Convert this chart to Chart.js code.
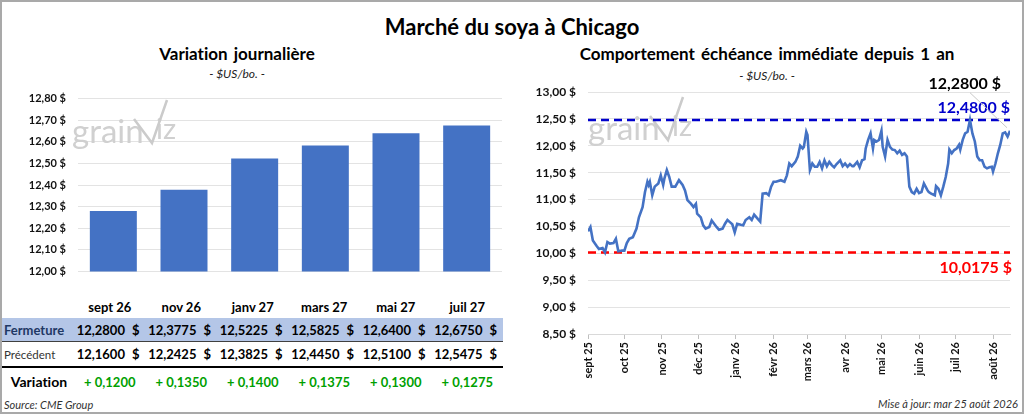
<!DOCTYPE html>
<html lang="fr">
<head>
<meta charset="utf-8">
<title>Marché du soya à Chicago</title>
<script src="https://cdn.jsdelivr.net/npm/chart.js@4.4.1/dist/chart.umd.min.js"></script>
<style>
    html, body { margin: 0; padding: 0; background: #fff; }
    body { width: 1024px; height: 414px; position: relative; overflow: hidden; font-family: Lato, 'Liberation Sans', sans-serif; color: #000; font-variant-ligatures: none; }
    #frame { position: absolute; left: 0; top: 0; width: 1024px; height: 414px; box-sizing: border-box; border: 2px solid #a9a9a9; }
    .abs { position: absolute; white-space: nowrap; }
    #mainTitle { left: 0; width: 1024px; top: 13px; line-height: 28px; text-align: center; font-size: 22px; font-weight: 700; }
    .panelTitle { line-height: 20px; text-align: center; font-size: 17px; font-weight: 700; word-spacing: 2px; }
    .panelSub { line-height: 16px; text-align: center; font-size: 12px; font-style: italic; color: #222; }
    #source { left: 4px; top: 398px; line-height: 14px; font-size: 11px; font-style: italic; color: #333; }
    #updated { right: 6px; top: 397px; line-height: 14px; font-size: 11px; font-style: italic; color: #333; }

    #quoteTable { left: 2px; top: 296px; width: 501px; border-collapse: collapse; table-layout: fixed; font-size: 13px; }
    #quoteTable th, #quoteTable td { padding: 0; white-space: nowrap; }
    #quoteTable thead th { height: 22px; font-weight: 700; text-align: center; }
    #quoteTable tr.close td { height: 23px; background: #b4c6e7; border-bottom: 1px solid #404040; font-weight: 700; }
    #quoteTable tr.close td.label { color: #1f3864; }
    #quoteTable tr.prev td { height: 24px; border-bottom: 2px solid #000; font-weight: 700; }
    #quoteTable tr.prev td.label { font-weight: 400; font-size: 11.5px; color: #333; }
    #quoteTable tr.change td { height: 27px; font-weight: 700; text-align: center; color: #00a000; }
    #quoteTable tr.change td.label { color: #000; font-size: 14px; }
    #quoteTable td.label { text-align: left; padding-left: 2px; }
    #quoteTable td.num { text-align: right; padding-right: 6px; }
    #quoteTable td.num span { margin-left: 7px; }
</style>
</head>
<body>
<div id="frame"></div>
<div id="mainTitle" class="abs">Marché du soya à Chicago</div>
<div class="abs panelTitle" style="left:0;width:474px;top:44px">Variation journalière</div>
<div class="abs panelSub" style="left:0;width:474px;top:66px">- $US/bo. -</div>
<div class="abs panelTitle" style="left:512px;width:510px;top:44px">Comportement échéance immédiate depuis 1 an</div>
<div class="abs panelSub" style="left:512px;width:510px;top:68px">- $US/bo. -</div>

<canvas id="barChart" class="abs" style="left:0;top:80px" width="512" height="210"></canvas>
<canvas id="lineChart" class="abs" style="left:512px;top:70px" width="512" height="320"></canvas>

<table id="quoteTable" class="abs">
    <colgroup><col style="width:72px"><col span="6" style="width:71.5px"></colgroup>
    <thead><tr id="contractRow"><th></th></tr></thead>
    <tbody>
        <tr class="close" id="closeRow"><td class="label">Fermeture</td></tr>
        <tr class="prev" id="prevRow"><td class="label">Précédent</td></tr>
        <tr class="change" id="changeRow"><td class="label">Variation</td></tr>
    </tbody>
</table>

<div id="source" class="abs">Source: CME Group</div>
<div id="updated" class="abs">Mise à jour: mar 25 août 2026</div>

<script>
// Left panel: futures contracts, closing and previous settle
const contracts = ['sept 26', 'nov 26', 'janv 27', 'mars 27', 'mai 27', 'juil 27']
const closingPrices = [12.28, 12.3775, 12.5225, 12.5825, 12.64, 12.675]
const previousPrices = [12.16, 12.2425, 12.3825, 12.445, 12.51, 12.5475]
const dailyChanges = [0.12, 0.135, 0.14, 0.1375, 0.13, 0.1275]

// Right panel: front month over one year
const monthStarts = ['2025-09-01', '2025-10-01', '2025-11-01', '2025-12-01', '2026-01-01', '2026-02-01',
    '2026-03-01', '2026-04-01', '2026-05-01', '2026-06-01', '2026-07-01', '2026-08-01']
const monthLabels = ['sept 25', 'oct 25', 'nov 25', 'déc 25', 'janv 26', 'févr 26',
    'mars 26', 'avr 26', 'mai 26', 'juin 26', 'juil 26', 'août 26']

const priceDates = [
    '2025-09-01', '2025-09-03', '2025-09-05', '2025-09-08', '2025-09-10', '2025-09-13', '2025-09-15', '2025-09-17',
    '2025-09-19', '2025-09-22', '2025-09-24', '2025-09-26', '2025-09-29',
    '2025-10-01', '2025-10-03', '2025-10-05', '2025-10-08', '2025-10-11', '2025-10-13', '2025-10-16', '2025-10-18',
    '2025-10-20', '2025-10-21', '2025-10-22', '2025-10-24', '2025-10-26', '2025-10-29', '2025-10-31',
    '2025-11-02', '2025-11-03', '2025-11-05', '2025-11-07', '2025-11-09', '2025-11-12', '2025-11-15', '2025-11-18',
    '2025-11-20', '2025-11-22', '2025-11-25', '2025-11-27', '2025-11-29', '2025-11-30',
    '2025-12-03', '2025-12-05', '2025-12-07', '2025-12-10', '2025-12-12', '2025-12-14', '2025-12-16', '2025-12-18',
    '2025-12-21', '2025-12-23', '2025-12-25', '2025-12-27', '2025-12-29', '2025-12-31',
    '2026-01-02', '2026-01-05', '2026-01-07', '2026-01-09', '2026-01-12', '2026-01-14', '2026-01-16', '2026-01-19',
    '2026-01-21', '2026-01-23', '2026-01-26', '2026-01-28', '2026-01-30',
    '2026-02-01', '2026-02-03', '2026-02-07', '2026-02-10', '2026-02-12', '2026-02-14', '2026-02-16', '2026-02-19',
    '2026-02-21', '2026-02-23', '2026-02-25', '2026-02-26', '2026-02-28',
    '2026-03-01', '2026-03-03', '2026-03-05', '2026-03-07', '2026-03-09', '2026-03-11', '2026-03-13', '2026-03-15',
    '2026-03-17', '2026-03-19', '2026-03-21', '2026-03-23', '2026-03-25', '2026-03-28', '2026-03-30',
    '2026-04-01', '2026-04-03', '2026-04-05', '2026-04-07', '2026-04-08', '2026-04-11', '2026-04-13', '2026-04-15',
    '2026-04-17', '2026-04-18', '2026-04-20', '2026-04-22', '2026-04-24', '2026-04-25', '2026-04-27', '2026-04-29',
    '2026-05-01', '2026-05-02', '2026-05-04', '2026-05-06', '2026-05-08', '2026-05-10', '2026-05-12', '2026-05-14',
    '2026-05-16', '2026-05-18', '2026-05-20', '2026-05-22', '2026-05-24', '2026-05-26', '2026-05-28', '2026-05-30',
    '2026-06-01', '2026-06-03', '2026-06-05', '2026-06-08', '2026-06-09', '2026-06-11', '2026-06-14', '2026-06-15',
    '2026-06-17', '2026-06-19', '2026-06-21', '2026-06-23', '2026-06-25', '2026-06-26', '2026-06-28', '2026-06-30',
    '2026-07-02', '2026-07-04', '2026-07-05', '2026-07-07', '2026-07-09', '2026-07-11', '2026-07-13', '2026-07-15',
    '2026-07-17', '2026-07-19', '2026-07-21', '2026-07-23', '2026-07-25', '2026-07-27', '2026-07-29', '2026-07-31',
    '2026-08-01', '2026-08-03', '2026-08-05', '2026-08-07', '2026-08-09', '2026-08-11', '2026-08-13', '2026-08-15'
]
const prices = [
    10.41, 10.49, 10.24, 10.14, 10.08, 10.10, 10.0175, 10.21,
    10.18, 10.19, 10.27, 10.04, 10.05,
    10.05, 10.19, 10.27, 10.30, 10.46, 10.67, 10.86, 11.14,
    11.33, 11.27, 11.33, 11.08, 11.24, 11.30, 11.45,
    11.27, 11.39, 11.55, 11.42, 11.24, 11.24, 11.36, 11.27,
    11.17, 10.99, 10.92, 10.86, 10.92, 10.74,
    10.67, 10.52, 10.46, 10.49, 10.61, 10.55, 10.49, 10.44,
    10.46, 10.55, 10.62, 10.58, 10.54, 10.39,
    10.55, 10.53, 10.52, 10.62, 10.67, 10.62, 10.72, 10.64,
    10.59, 11.11, 11.12, 11.08, 11.24,
    11.33, 11.33, 11.36, 11.33, 11.45, 11.67, 11.62, 11.70,
    11.80, 12.00, 11.95, 11.98, 12.26,
    12.20, 11.55, 11.67, 11.61, 11.61, 11.70, 11.58, 11.73,
    11.62, 11.70, 11.64, 11.60, 11.66, 11.73, 11.62,
    11.67, 11.61, 11.66, 11.62, 11.62, 11.70, 11.60, 11.73,
    11.75, 11.95, 12.11, 12.23, 11.95, 12.11, 12.08, 12.11,
    12.28, 11.98, 11.80, 12.11, 11.98, 11.93, 11.92, 11.86,
    11.91, 11.83, 11.86, 11.80, 11.24, 11.14, 11.11, 11.20,
    11.12, 11.14, 11.30, 11.17, 11.14, 11.11, 11.08, 11.25,
    11.20, 11.08, 11.24, 11.42, 11.67, 11.93, 11.86, 11.92,
    11.95, 12.02, 11.93, 12.11, 12.23, 12.26, 12.48, 12.23,
    12.08, 11.80, 11.73, 11.73, 11.61, 11.58, 11.60, 11.61,
    11.52, 11.67, 11.86, 12.02, 12.23, 12.25, 12.17, 12.28
]
const yearHigh = 12.48
const yearLow = 10.0175

const FONT = 'Lato, "Liberation Sans", sans-serif'
const BAR_BLUE = '#4472c4'
const HIGH_BLUE = '#0000cc'
const LOW_RED = '#ff0000'

// day count from first month tick, so the x scale is linear in time
const dayOffset = s => (Date.parse(s) - Date.parse(monthStarts[0])) / 86400000
const formatAxisPrice = v => v.toFixed(2).replace('.', ',') + ' $'
const formatQuote = v => v.toFixed(4).replace('.', ',') + ' $'

// light grey "grainviz" mark behind the plot, in canvas coords
function watermark(x, baseline) {
    return {
        id: 'watermark',
        beforeDatasetsDraw(chart) {
            const ctx = chart.ctx
            ctx.save()
            ctx.fillStyle = '#d0d0d0'
            ctx.strokeStyle = '#cbcbcb'
            ctx.font = '400 33px ' + FONT
            ctx.textBaseline = 'alphabetic'
            ctx.fillText('grain', x, baseline)
            ctx.font = '400 29px ' + FONT
            ctx.fillText('iz', x + 84, baseline - 4)
            ctx.lineWidth = 2.5
            ctx.beginPath()
            ctx.moveTo(x + 62, baseline - 24)
            ctx.lineTo(x + 80, baseline)
            ctx.lineTo(x + 95, baseline - 43)
            ctx.stroke()
            ctx.restore()
        }
    }
}

function initBarChart() {
    const ctx = document.getElementById('barChart').getContext('2d')
    new Chart(ctx, {
        type: 'bar',
        data: {
            labels: contracts,
            datasets: [{
                data: closingPrices,
                backgroundColor: BAR_BLUE,
                borderWidth: 0,
                categoryPercentage: 1,
                barPercentage: 0.665
            }]
        },
        options: {
            responsive: false,
            animation: false,
            layout: { padding: { top: 14, right: 10, bottom: 6, left: 0 } },
            plugins: { legend: { display: false }, tooltip: { enabled: false } },
            scales: {
                x: { display: false },
                y: {
                    min: 12,
                    max: 12.8,
                    ticks: {
                        stepSize: 0.1,
                        padding: 12,
                        color: '#111',
                        font: { family: FONT, size: 11, weight: 'bold' },
                        callback: v => formatAxisPrice(v)
                    },
                    grid: { color: '#e3e3e3', drawTicks: false },
                    border: { display: false },
                    afterFit: scale => { scale.width = 78 }
                }
            }
        },
        plugins: [watermark(72, 63)]
    })
}

const priceLabels = {
    id: 'priceLabels',
    afterDatasetsDraw(chart) {
        const { ctx, chartArea, scales: { x, y } } = chart
        ctx.save()
        ctx.font = 'bold 16px ' + FONT
        ctx.textAlign = 'right'
        ctx.textBaseline = 'middle'
        ctx.fillStyle = HIGH_BLUE
        ctx.fillText(formatQuote(yearHigh), chartArea.right, y.getPixelForValue(yearHigh) - 12)
        ctx.fillStyle = LOW_RED
        ctx.fillText(formatQuote(yearLow), chartArea.right + 2, y.getPixelForValue(yearLow) + 15)

        // callout for the last close
        const lastX = x.getPixelForValue(dayOffset(priceDates[priceDates.length - 1]))
        const lastY = y.getPixelForValue(prices[prices.length - 1])
        ctx.strokeStyle = '#c8c8c8'
        ctx.lineWidth = 1
        ctx.beginPath()
        ctx.moveTo(lastX - 40, lastY - 38)
        ctx.lineTo(lastX - 3, lastY - 3)
        ctx.stroke()
        ctx.fillStyle = '#000'
        ctx.fillText(formatQuote(prices[prices.length - 1]), lastX - 9, lastY - 47)
        ctx.restore()
    }
}

function initLineChart() {
    const ctx = document.getElementById('lineChart').getContext('2d')
    const xMax = dayOffset(priceDates[priceDates.length - 1])
    const refLine = (value, color) => ({
        data: [{ x: 0, y: value }, { x: xMax, y: value }],
        borderColor: color,
        borderWidth: 2.5,
        borderDash: [8, 5],
        pointRadius: 0,
        order: 2
    })

    new Chart(ctx, {
        type: 'line',
        data: {
            datasets: [{
                data: priceDates.map((d, i) => ({ x: dayOffset(d), y: prices[i] })),
                borderColor: BAR_BLUE,
                borderWidth: 2.6,
                pointRadius: 0,
                tension: 0,
                order: 1
            },
            refLine(yearHigh, HIGH_BLUE),
            refLine(yearLow, LOW_RED)]
        },
        options: {
            responsive: false,
            animation: false,
            layout: { padding: { top: 22, right: 14, bottom: 0, left: 0 } },
            plugins: { legend: { display: false }, tooltip: { enabled: false } },
            scales: {
                x: {
                    type: 'linear',
                    min: 0,
                    max: xMax,
                    afterBuildTicks: scale => { scale.ticks = monthStarts.map(d => ({ value: dayOffset(d) })) },
                    ticks: {
                        autoSkip: false,
                        minRotation: 90,
                        maxRotation: 90,
                        padding: 3,
                        color: '#111',
                        font: { family: FONT, size: 11, weight: 'bold' },
                        callback: (value, index) => monthLabels[index]
                    },
                    grid: { drawOnChartArea: false, tickLength: 5, color: '#bfbfbf' },
                    border: { color: '#d9d9d9' },
                    afterFit: scale => { scale.height = 56 }
                },
                y: {
                    min: 8.5,
                    max: 13,
                    ticks: {
                        stepSize: 0.5,
                        padding: 12,
                        color: '#111',
                        font: { family: FONT, size: 12, weight: 'bold' },
                        callback: v => formatAxisPrice(v)
                    },
                    grid: { color: '#e3e3e3', drawTicks: false },
                    border: { display: false },
                    afterFit: scale => { scale.width = 76 }
                }
            }
        },
        plugins: [watermark(76, 70), priceLabels]
    })
}

function renderQuoteTable() {
    const headRow = document.getElementById('contractRow')
    const closeRow = document.getElementById('closeRow')
    const prevRow = document.getElementById('prevRow')
    const changeRow = document.getElementById('changeRow')

    const quoteCell = value => {
        const cell = document.createElement('td')
        cell.className = 'num'
        const parts = formatQuote(value).split(' ')
        cell.textContent = parts[0]
        const cur = document.createElement('span')
        cur.textContent = parts[1]
        cell.appendChild(cur)
        return cell
    }

    contracts.forEach((name, i) => {
        const th = document.createElement('th')
        th.textContent = name
        headRow.appendChild(th)

        closeRow.appendChild(quoteCell(closingPrices[i]))
        prevRow.appendChild(quoteCell(previousPrices[i]))

        const changeCell = document.createElement('td')
        changeCell.textContent = (dailyChanges[i] >= 0 ? '+ ' : '- ') + Math.abs(dailyChanges[i]).toFixed(4).replace('.', ',')
        changeRow.appendChild(changeCell)
    })
}

renderQuoteTable()
initBarChart()
initLineChart()
</script>
</body>
</html>
